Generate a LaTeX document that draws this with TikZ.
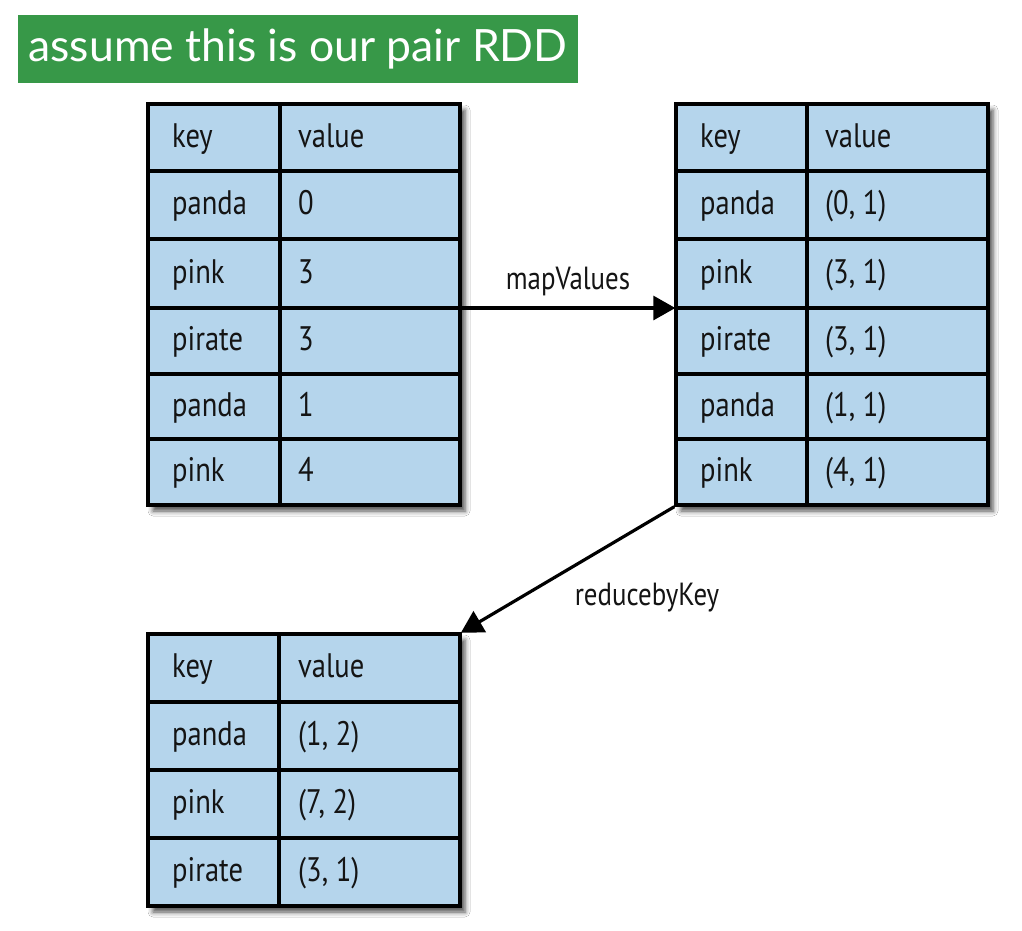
\documentclass[tikz,border=0pt]{standalone}
\usepackage{fontspec}
\setmainfont{PT Sans}[FakeStretch=0.84]
\newfontfamily\titlefont{Lato}
\usetikzlibrary{shadows.blur,arrows.meta,calc}
\definecolor{cellblue}{RGB}{181,213,236}
\definecolor{titlegreen}{RGB}{55,152,72}
\definecolor{inkc}{RGB}{20,20,20}
\begin{document}
\begin{tikzpicture}[x=1pt,y=-1pt,
  tablebox/.style={draw=black, line width=3.4pt, fill=cellblue, rectangle, inner sep=0pt,
    blur shadow={shadow xshift=5pt, shadow yshift=-6pt, shadow blur radius=5pt, shadow opacity=70}},
  gridline/.style={draw=black, line width=3.2pt},
  celltext/.style={anchor=base west, inner sep=0pt, text=inkc, font=\fontsize{34}{34}\selectfont},
  lbl/.style={inner sep=0pt, text=inkc, font=\fontsize{32}{32}\selectfont},
  flow/.style={draw=black, line width=3.2pt, -{Triangle[length=22pt,width=24pt]}, shorten >=-1pt},
  titlebox/.style={fill=titlegreen, text=white, inner sep=0pt, font=\titlefont\fontsize{44.5}{44.5}\selectfont}]
\useasboundingbox[fill=white] (0,0) rectangle (1022,930);

% title
\node[titlebox, minimum width=560pt, minimum height=68pt] (title) at (298,49) {assume this is our pair RDD};

% table 1
\node[tablebox, minimum width=312pt, minimum height=401pt] (t1) at (304,304.5) {};
\draw[gridline] (280,104) -- (280,505);
\foreach \y in {171,239,308,374,439} \draw[gridline] (148,\y) -- (460,\y);
\foreach \k/\v/\b [count=\i] in {key/value/147,panda/0/214,pink/3/283,pirate/3/350,panda/1/416,pink/4/481}{
  \node[celltext] (ak\i) at (172,\b) {\k};
  \node[celltext] (av\i) at (298,\b) {\v};
}

% table 2
\node[tablebox, minimum width=312pt, minimum height=401pt] (t2) at (832,304.5) {};
\draw[gridline] (807,104) -- (807,505);
\foreach \y in {171,239,308,374,439} \draw[gridline] (676,\y) -- (988,\y);
\foreach \k/\v/\b [count=\i] in {key/value/147,panda/{(0, 1)}/214,pink/{(3, 1)}/283,pirate/{(3, 1)}/350,panda/{(1, 1)}/416,pink/{(4, 1)}/481}{
  \node[celltext] (bk\i) at (700,\b) {\k};
  \node[celltext] (bv\i) at (825,\b) {\v};
}

% table 3
\node[tablebox, minimum width=312pt, minimum height=272pt] (t3) at (304,770) {};
\draw[gridline] (279,634) -- (279,906);
\foreach \y in {702,770,838} \draw[gridline] (148,\y) -- (460,\y);
\foreach \k/\v/\b [count=\i] in {key/value/677,panda/{(1, 2)}/745,pink/{(7, 2)}/813,pirate/{(3, 1)}/881}{
  \node[celltext] (ck\i) at (172,\b) {\k};
  \node[celltext] (cv\i) at (298,\b) {\v};
}

% connectors
\draw[flow] ($(t1.east)+(0,3.5)$) -- ($(t2.west)+(0,3.5)$);
\node[lbl] (lmap) at (568,281) {mapValues};
\draw[flow] (t2.south west) -- (t3.north east);
\node[lbl] (lred) at (647,598) {reducebyKey};
\end{tikzpicture}
\end{document}
